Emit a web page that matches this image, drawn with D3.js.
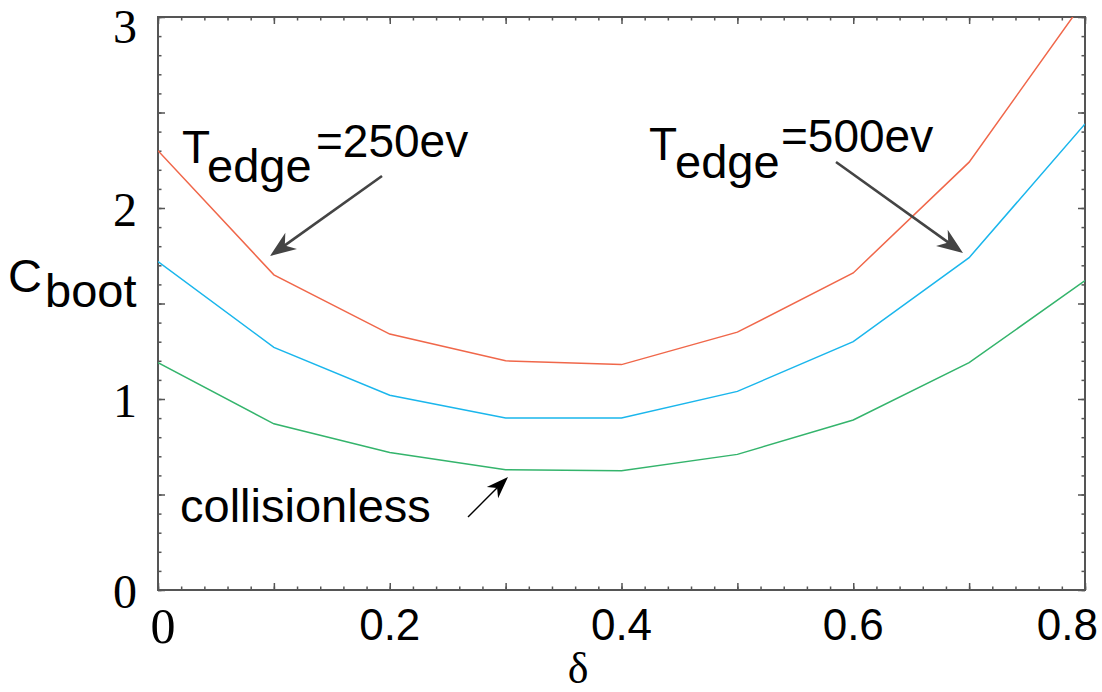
<!DOCTYPE html>
<html>
<head>
<meta charset="utf-8">
<script src="https://cdn.jsdelivr.net/npm/d3@7/dist/d3.min.js"></script>
<style>
  html, body { margin: 0; padding: 0; background: #fff; }
  svg { display: block; }
  .sans { font-family: "Liberation Sans", Arial, Helvetica, sans-serif; }
  .serif { font-family: "Liberation Serif", "Times New Roman", serif; }
</style>
</head>
<body>
<svg id="chart" width="1102" height="692"></svg>
<script>
// Bootstrap current coefficient versus triangularity
const delta = [0, 0.1, 0.2, 0.3, 0.4, 0.5, 0.6, 0.7, 0.8];
const cboot250 = [2.30, 1.65, 1.34, 1.20, 1.18, 1.35, 1.66, 2.24, 3.09];
const cboot500 = [1.72, 1.27, 1.02, 0.90, 0.90, 1.04, 1.30, 1.74, 2.44];
const cbootCollisionless = [1.19, 0.87, 0.72, 0.63, 0.625, 0.71, 0.89, 1.19, 1.62];

const xTickLabels = [0, 0.2, 0.4, 0.6, 0.8];
const yTickLabels = [0, 1, 2, 3];

const seriesList = [
  { name: "Tedge=250ev", values: cboot250, color: "#f0674a" },
  { name: "Tedge=500ev", values: cboot500, color: "#1ab6ec" },
  { name: "collisionless", values: cbootCollisionless, color: "#34b46c" }
];

const svg = d3.select("#chart");
const plot = { left: 158, right: 1085, top: 17, bottom: 590 };

const x = d3.scaleLinear().domain([0, 0.8]).range([plot.left, plot.right]);
const y = d3.scaleLinear().domain([0, 3]).range([plot.bottom, plot.top]);

const frameColor = "#555";

// clip region for the curves
svg.append("defs").append("clipPath").attr("id", "plotClip")
  .append("rect")
  .attr("x", plot.left).attr("y", plot.top)
  .attr("width", plot.right - plot.left).attr("height", plot.bottom - plot.top);

// inward ticks on all four sides
const xMinor = d3.range(0, 0.8001, 0.02);
const xMajor = d3.range(0, 0.8001, 0.1);
const yMinor = d3.range(0, 3.0001, 0.1);
const yMajor = d3.range(0, 3.0001, 0.5);

function tickAxis(axisFn, scale, values, size, transform) {
  const g = svg.append("g")
    .attr("transform", transform)
    .call(axisFn(scale).tickValues(values).tickSizeInner(-size).tickSizeOuter(0).tickFormat(""));
  g.select(".domain").remove();
  g.selectAll(".tick line").attr("stroke", frameColor).attr("stroke-width", 1.5);
  return g;
}

tickAxis(d3.axisBottom, x, xMinor, 3.5, `translate(0,${plot.bottom})`);
tickAxis(d3.axisBottom, x, xMajor, 7, `translate(0,${plot.bottom})`);
tickAxis(d3.axisTop, x, xMinor, 3.5, `translate(0,${plot.top})`);
tickAxis(d3.axisTop, x, xMajor, 7, `translate(0,${plot.top})`);
tickAxis(d3.axisLeft, y, yMinor, 3.5, `translate(${plot.left},0)`);
tickAxis(d3.axisLeft, y, yMajor, 7, `translate(${plot.left},0)`);
tickAxis(d3.axisRight, y, yMinor, 3.5, `translate(${plot.right},0)`);
tickAxis(d3.axisRight, y, yMajor, 7, `translate(${plot.right},0)`);

// frame
svg.append("rect")
  .attr("x", plot.left).attr("y", plot.top)
  .attr("width", plot.right - plot.left).attr("height", plot.bottom - plot.top)
  .attr("fill", "none").attr("stroke", frameColor).attr("stroke-width", 2);

// curves
const line = d3.line().x((d, i) => x(delta[i])).y(d => y(d));
svg.append("g").attr("clip-path", "url(#plotClip)")
  .selectAll("path").data(seriesList).join("path")
  .attr("d", d => line(d.values))
  .attr("fill", "none")
  .attr("stroke", d => d.color)
  .attr("stroke-width", 1.5)
  .attr("stroke-linejoin", "miter");

// y tick labels
svg.append("g").selectAll("text").data(yTickLabels).join("text")
  .attr("class", "serif")
  .attr("x", 137)
  .attr("y", d => Math.max(y(d) + 18, 43))
  .attr("text-anchor", "end")
  .attr("font-size", 48)
  .attr("fill", "#000")
  .text(d => d3.format("d")(d));

// x tick labels
const xl = svg.append("g");
xl.selectAll("text").data(xTickLabels).join("text")
  .attr("class", d => d === 0 ? "serif" : "sans")
  .attr("x", (d, i) => d === 0 ? x(d) + 5 : (i === xTickLabels.length - 1 ? 1098 : x(d)))
  .attr("y", d => d === 0 ? 643 : 640)
  .attr("text-anchor", (d, i) => i === xTickLabels.length - 1 ? "end" : "middle")
  .attr("font-size", d => d === 0 ? 50 : 44)
  .attr("fill", "#000")
  .text(d => d === 0 ? "0" : d3.format(".1f")(d));

// axis titles
svg.append("text").attr("class", "serif")
  .attr("x", 578).attr("y", 683)
  .attr("text-anchor", "middle").attr("font-size", 44)
  .text("δ");

svg.append("text").attr("class", "sans")
  .attr("x", 8).attr("y", 292).attr("font-size", 47).text("C");
svg.append("text").attr("class", "sans")
  .attr("x", 45).attr("y", 307).attr("font-size", 47).text("boot");

// annotation labels
function tedgeLabel(tx, tBase, eBase, vBase, eX, vX, value) {
  svg.append("text").attr("class", "sans").attr("x", tx).attr("y", tBase).attr("font-size", 46).text("T");
  svg.append("text").attr("class", "sans").attr("x", eX).attr("y", eBase).attr("font-size", 47).text("edge");
  svg.append("text").attr("class", "sans").attr("x", vX).attr("y", vBase).attr("font-size", 46).text(value);
}
tedgeLabel(182, 163, 182, 157, 207, 316, "=250ev");
tedgeLabel(649, 160, 178, 152, 675, 781, "=500ev");

svg.append("text").attr("class", "sans")
  .attr("x", 180).attr("y", 522).attr("font-size", 47).text("collisionless");

// arrows with notched heads
function arrow(x1, y1, x2, y2, color, width, headLen, headWidth) {
  const ang = Math.atan2(y2 - y1, x2 - x1);
  const g = svg.append("g");
  const shaftEnd = headLen * 0.6;
  g.append("line")
    .attr("x1", x1).attr("y1", y1)
    .attr("x2", x2 - shaftEnd * Math.cos(ang)).attr("y2", y2 - shaftEnd * Math.sin(ang))
    .attr("stroke", color).attr("stroke-width", width);
  const hw = headWidth / 2;
  const pts = [[0, 0], [-headLen, -hw], [-headLen * 0.7, 0], [-headLen, hw]];
  g.append("path")
    .attr("d", d3.line()(pts) + "Z")
    .attr("transform", `translate(${x2},${y2}) rotate(${ang * 180 / Math.PI})`)
    .attr("fill", color);
}
arrow(382, 176, 270, 256, "#444", 2.6, 26, 20);
arrow(836, 162, 963, 253, "#444", 2.6, 26, 20);
arrow(468, 517, 508, 477, "#000", 1.4, 22, 16);
</script>
</body>
</html>
